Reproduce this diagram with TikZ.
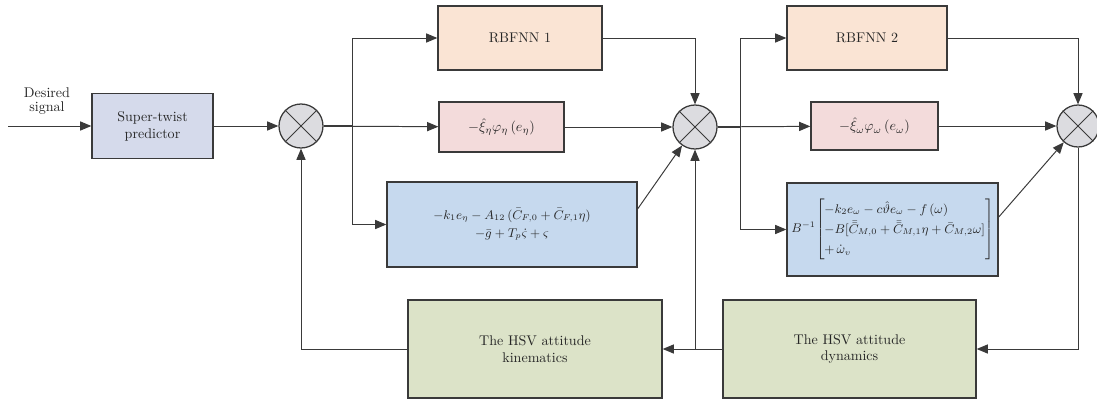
\documentclass[tikz,border=0pt]{standalone}
\usepackage{amsmath}
\usetikzlibrary{arrows.meta}
\definecolor{LineGray}{HTML}{3A3A3A}
\definecolor{PredBlue}{HTML}{D5DAEB}
\definecolor{NetPeach}{HTML}{FAE4D4}
\definecolor{AdaPink}{HTML}{F3DBDB}
\definecolor{CtrlBlue}{HTML}{C6D9EE}
\definecolor{PlantGreen}{HTML}{DCE3C8}
\definecolor{SumGray}{HTML}{DCDCE0}
\begin{document}
\begin{tikzpicture}[x=0.025cm,y=-0.025cm]
  \tikzset{BlockStyle/.style={draw=LineGray,line width=0.9pt,inner sep=2pt,align=center,text=black!85},
    SumStyle/.style={circle,draw=LineGray,line width=0.9pt,fill=SumGray,minimum size=1.1cm,inner sep=0pt},
    LinkStyle/.style={draw=LineGray,line width=0.7pt,-{Triangle[length=8pt,width=6.5pt]}},
    WireStyle/.style={draw=LineGray,line width=0.7pt}
  }
  \useasboundingbox (0,0) rectangle (1097,402);
  % blocks
  \node[BlockStyle,fill=PredBlue,minimum width=3.025cm,minimum height=1.625cm] (stp) at (152.5,126) {Super-twist\\predictor};
  \node[BlockStyle,fill=NetPeach,minimum width=4.1cm,minimum height=1.6cm] (rbf1) at (520,38) {RBFNN 1};
  \node[BlockStyle,fill=AdaPink,minimum width=3.125cm,minimum height=1.25cm] (pk1) at (501.5,127) {$-\hat{\xi}_{\eta}\varphi_{\eta}\,(e_{\eta})$};
  \node[BlockStyle,fill=CtrlBlue,minimum width=6.25cm,minimum height=2.125cm,font=\small] (bl1) at (512,224.5)
    {$-k_1e_{\eta}-A_{12}\,(\bar{C}_{F,0}+\bar{C}_{F,1}\eta)$\\[2pt]$-\bar{g}+T_p\dot{\varsigma}+\varsigma$};
  \node[BlockStyle,fill=NetPeach,minimum width=4cm,minimum height=1.6cm] (rbf2) at (867,38) {RBFNN 2};
  \node[BlockStyle,fill=AdaPink,minimum width=3.175cm,minimum height=1.2cm] (pk2) at (874.5,126) {$-\hat{\xi}_{\omega}\varphi_{\omega}\,(e_{\omega})$};
  \node[BlockStyle,fill=CtrlBlue,minimum width=5.275cm,minimum height=2.325cm,font=\small] (bl2) at (892.5,229.5)
    {$B^{-1}\!\left[\renewcommand{\arraystretch}{1.3}\begin{array}{@{}l@{}}
      -k_2e_{\omega}-c\hat{\vartheta}e_{\omega}-f\,(\omega)\\
      -B[\bar{\bar{C}}_{M,0}+\bar{\bar{C}}_{M,1}\eta+\bar{C}_{M,2}\omega]\\
      +\,\dot{\omega}_v\end{array}\right]$};
  \node[BlockStyle,fill=PlantGreen,minimum width=6.35cm,minimum height=2.45cm] (kin) at (535,349) {The HSV attitude\\kinematics};
  \node[BlockStyle,fill=PlantGreen,minimum width=6.325cm,minimum height=2.45cm] (dyn) at (849.5,349) {The HSV attitude\\dynamics};
  % summing junctions
  \node[SumStyle] (s1) at (301,126) {};
  \node[SumStyle] (s2) at (695,127) {};
  \node[SumStyle,minimum size=1.05cm] (s3) at (1078,126) {};
  \foreach \s in {s1,s2,s3}{
    \draw[LineGray,line width=0.7pt] (\s.north west) -- (\s.south east) (\s.north east) -- (\s.south west);
  }
  \node[align=center,inner sep=0pt,text=black!85] (desired) at (47,101) {Desired\\[-2pt]signal};
  \coordinate (in) at (8,126);
  \coordinate (br1) at (352,126);
  \coordinate (br2) at (740,127);
  \coordinate (br3) at (s2 |- kin.east);
  % connectors
  \draw[LinkStyle] (in) -- (stp);
  \draw[LinkStyle] (stp) -- (s1);
  \draw[LinkStyle] (s1) -- (pk1);
  \draw[WireStyle,line width=1.3pt] (s1.east) -- (br1);
  \draw[LinkStyle] (br1) |- (rbf1.west);
  \draw[LinkStyle] (br1) |- (bl1.west);
  \draw[LinkStyle] (rbf1.east) -| (s2.north);
  \draw[LinkStyle] (pk1) -- (s2);
  \draw[LinkStyle] ([yshift=0.39cm]bl1.east) -- (s2);
  \draw[LinkStyle] (s2) -- (pk2);
  \draw[WireStyle,line width=1.3pt] (s2.east) -- (br2);
  \draw[LinkStyle] (br2) |- (rbf2.west);
  \draw[LinkStyle] (br2) |- (bl2.west);
  \draw[LinkStyle] (rbf2.east) -| (s3.north);
  \draw[LinkStyle] (pk2) -- (s3);
  \draw[LinkStyle] ([yshift=0.31cm]bl2.east) -- (s3);
  \draw[LinkStyle] (s3.south) |- (dyn.east);
  \draw[LinkStyle] (dyn.west) -- (kin.east);
  \draw[LinkStyle] (br3) -- (s2.south);
  \draw[LinkStyle] (kin.west) -| (s1.south);
\end{tikzpicture}
\end{document}
